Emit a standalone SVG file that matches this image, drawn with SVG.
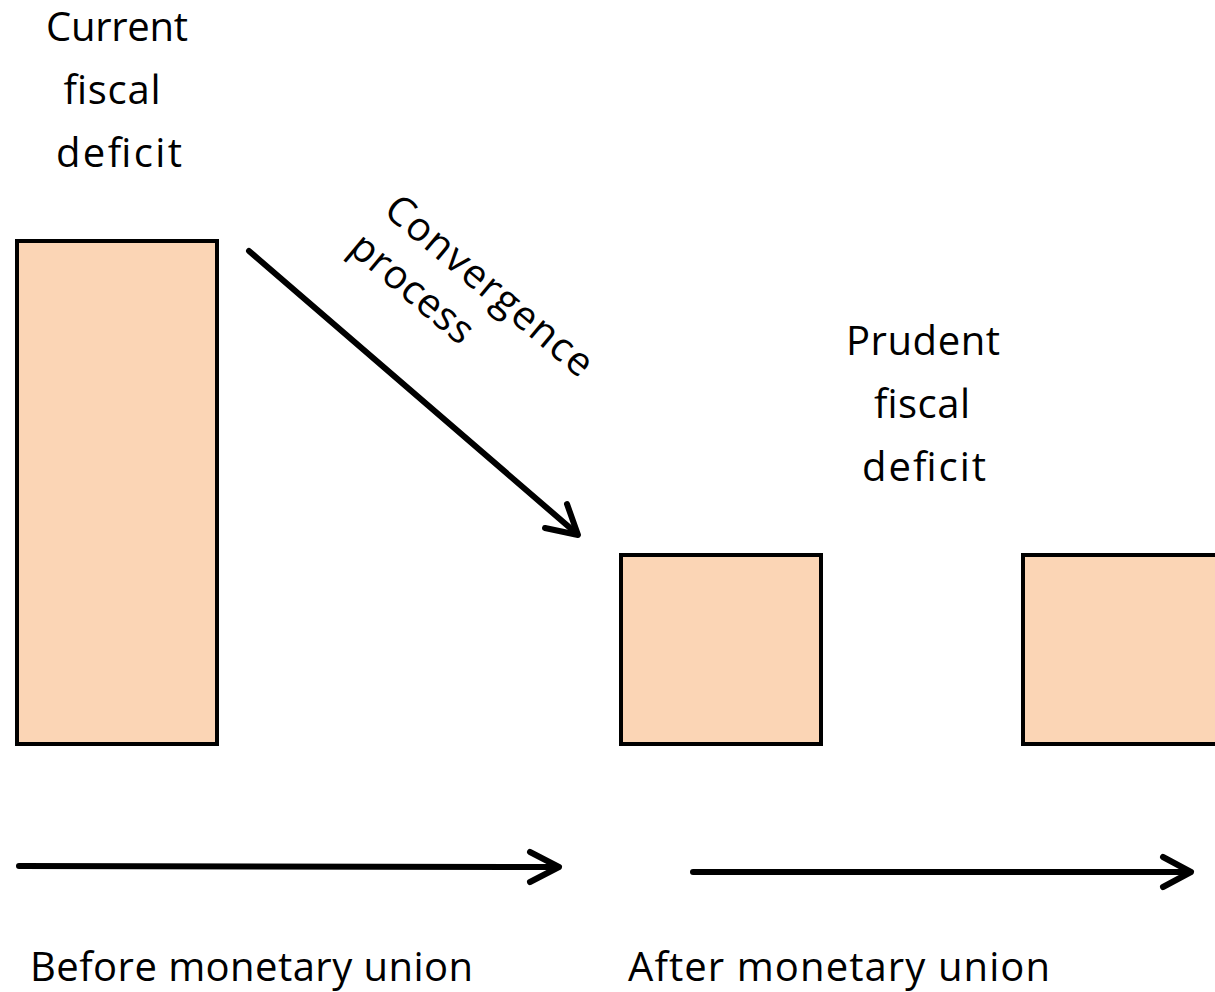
<svg xmlns="http://www.w3.org/2000/svg" width="1215" height="992" viewBox="0 0 1215 992">
<style>
.box{fill:#FBD5B5;stroke:#000;stroke-width:4}
.lbl{font-family:"Open Sans","Liberation Sans",sans-serif;font-size:40px;fill:#000}
.c{text-anchor:middle}
.ln{fill:none;stroke:#000;stroke-width:6;stroke-linecap:round;stroke-linejoin:round}
</style>
<rect width="1215" height="992" fill="#fff"/>
<g id="current">
<rect class="box" x="17" y="241" width="200" height="503"/>
<text class="lbl c" x="117" y="41" textLength="142" lengthAdjust="spacing">Current</text>
<text class="lbl c" x="112" y="104" textLength="97" lengthAdjust="spacing">fiscal</text>
<text class="lbl c" x="119" y="167" textLength="126" lengthAdjust="spacing">deficit</text>
</g>
<g id="prudent1">
<rect class="box" x="621" y="555" width="200" height="189"/>
<text class="lbl c" x="923" y="355" textLength="154" lengthAdjust="spacing">Prudent</text>
<text class="lbl c" x="922" y="418" textLength="96" lengthAdjust="spacing">fiscal</text>
<text class="lbl c" x="924" y="481" textLength="124" lengthAdjust="spacing">deficit</text>
</g>
<g id="prudent2">
<rect class="box" x="1023" y="555" width="200" height="189"/>
</g>
<g id="connectors">
<path class="ln" d="M249,251 L576,533"/>
<path class="ln" d="M545,528 L578,535 L567,504"/>
<path class="ln" d="M19,866 L558,867"/>
<path class="ln" d="M530,852 L559,867 L530,882"/>
<path class="ln" d="M693,872 L1190,872"/>
<path class="ln" d="M1163,857 L1191,872 L1163,887"/>
</g>
<g id="convergence">
<text class="lbl" transform="translate(382,213) rotate(40)" textLength="258" lengthAdjust="spacing">Convergence</text>
<text class="lbl" transform="translate(347,251) rotate(40)" textLength="148" lengthAdjust="spacing">process</text>
</g>
<g id="axis-labels">
<text class="lbl" x="30" y="981" textLength="443" lengthAdjust="spacing">Before monetary union</text>
<text class="lbl" x="628" y="981" textLength="422" lengthAdjust="spacing">After monetary union</text>
</g>
</svg>
